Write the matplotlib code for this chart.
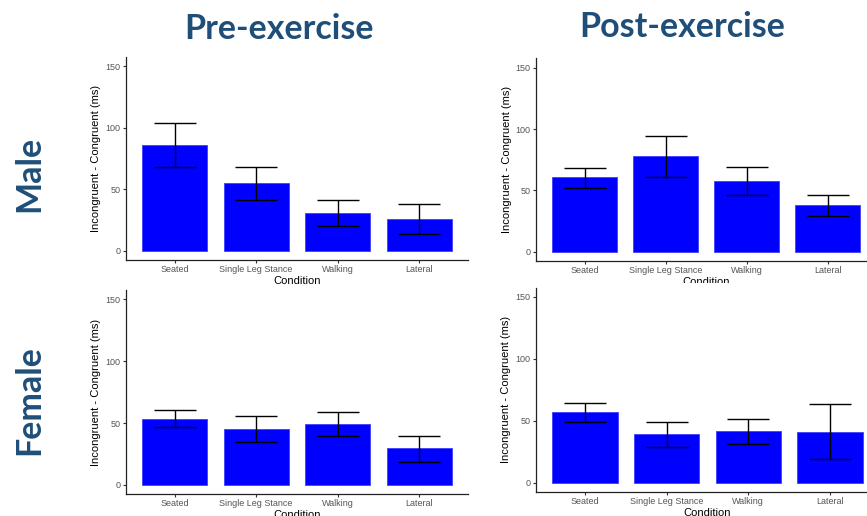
import matplotlib
matplotlib.use('Agg')
import matplotlib.pyplot as plt
from matplotlib.patches import Rectangle
import numpy as np

# Stroop interference (incongruent - congruent RT) by condition
conditions = ["Seated", "Single Leg Stance", "Walking", "Lateral"]

pre_male_mean = [86.3, 55.1, 30.7, 26.0]
pre_male_low = [67.8, 40.9, 20.1, 13.8]
pre_male_high = [104.2, 67.8, 40.9, 37.7]

post_male_mean = [60.7, 78.0, 57.4, 38.2]
post_male_low = [51.7, 61.2, 46.0, 29.5]
post_male_high = [68.5, 94.5, 68.8, 46.5]

pre_female_mean = [53.5, 44.9, 49.2, 29.5]
pre_female_low = [46.5, 34.6, 39.2, 18.9]
pre_female_high = [60.3, 55.4, 59.0, 39.5]

post_female_mean = [56.8, 39.0, 41.4, 41.1]
post_female_low = [48.7, 28.8, 31.0, 18.8]
post_female_high = [64.5, 48.7, 51.1, 63.5]

col_titles = ["Pre-exercise", "Post-exercise"]
row_titles = ["Male", "Female"]
y_ticks = [0, 50, 100, 150]

W, H = 867, 516
TITLE_BLUE = "#1F4E79"
GG_FONT = "Liberation Sans"

fig = plt.figure(figsize=(W / 100, H / 100), dpi=100)
fig.patch.set_facecolor("white")


def px_rect(left, top, right, bottom):
    """Pixel box (origin top-left) -> figure fraction rect."""
    return [left / W, 1 - bottom / H, (right - left) / W, (bottom - top) / H]


def draw_panel(rect, mean, low, high, zorder):
    ax = fig.add_axes(rect, zorder=zorder)
    ax.set_facecolor("white")
    x = np.arange(1, len(conditions) + 1)
    mean = np.array(mean)
    yerr = [mean - np.array(low), np.array(high) - mean]
    ax.bar(x, mean, width=0.8, color="#0000FF", edgecolor="#3F3FFF", linewidth=0.6)
    ax.errorbar(x, mean, yerr=yerr, fmt="none", ecolor="black",
                elinewidth=1.0, capsize=15, capthick=1.0)
    ax.set_xlim(0.4, 4.6)
    ax.set_ylim(-7.5, 157.5)
    ax.set_xticks(x)
    ax.set_xticklabels(conditions)
    ax.set_yticks(y_ticks)
    for side in ("top", "right"):
        ax.spines[side].set_visible(False)
    for side in ("left", "bottom"):
        ax.spines[side].set_color("#222222")
        ax.spines[side].set_linewidth(0.9)
    ax.tick_params(length=2.2, width=0.8, color="#333333", pad=1.5,
                   labelsize=6.5, labelcolor="#555555")
    for lbl in ax.get_xticklabels() + ax.get_yticklabels():
        lbl.set_family(GG_FONT)
    ax.set_xlabel("Condition", fontsize=8, family=GG_FONT, labelpad=1.5)
    ax.set_ylabel("Incongruent - Congruent (ms)", fontsize=8, family=GG_FONT,
                  labelpad=3)
    return ax


draw_panel(px_rect(125.7, 57, 468, 260), pre_male_mean, pre_male_low,
           pre_male_high, 1)
draw_panel(px_rect(535.9, 58.3, 876.3, 261.2), post_male_mean, post_male_low,
           post_male_high, 1)
draw_panel(px_rect(125.7, 290, 468, 494.2), pre_female_mean, pre_female_low,
           pre_female_high, 3)
draw_panel(px_rect(535.8, 287.7, 879, 492), post_female_mean, post_female_low,
           post_female_high, 3)

# white backing of the lower-right plot covers the upper one's axis title
fig.patches.append(Rectangle((490 / W, 0), 1 - 490 / W, 1 - 283 / H,
                             transform=fig.transFigure, facecolor="white",
                             edgecolor="none", zorder=2))

title_kw = dict(fontsize=24.5, fontweight="bold", color=TITLE_BLUE,
                family="Lato")
fig.text(279 / W, 1 - 39.3 / H, col_titles[0], ha="center", va="baseline",
         **title_kw)
fig.text(682 / W, 1 - 36.7 / H, col_titles[1], ha="center", va="baseline",
         **title_kw)
fig.text(29 / W, 1 - 174 / H, row_titles[0], ha="center", va="center",
         rotation=90, **title_kw)
fig.text(29 / W, 1 - 400 / H, row_titles[1], ha="center", va="center",
         rotation=90, **title_kw)

fig.savefig("out.png", dpi=100)
